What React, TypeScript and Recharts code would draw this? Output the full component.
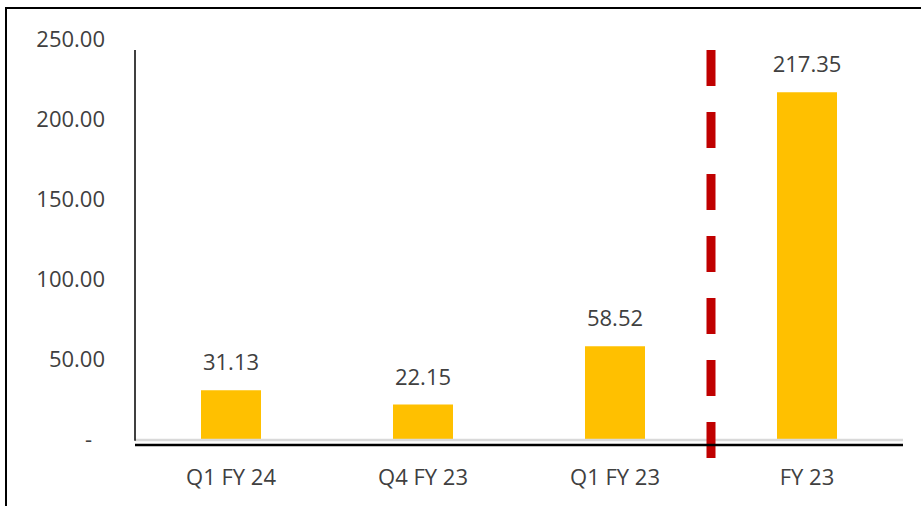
import { Bar, BarChart, LabelList, ReferenceLine, XAxis, YAxis } from "recharts";

const categories = ["Q1 FY 24", "Q4 FY 23", "Q1 FY 23", "FY 23"];
const values = [31.13, 22.15, 58.52, 217.35];
const yTicks = [0, 50, 100, 150, 200, 250];

const data = categories.map((name, i) => ({ name, value: values[i] }));

const FONT = "'Open Sans', sans-serif";
const TEXT = "#404040";

const first = categories[0];
const last = categories[categories.length - 1];

const YTick = (props: any) => {
  const { x, y, payload } = props;
  const v = payload.value as number;
  return (
    <text
      x={v === 0 ? x - 13 : x}
      y={y}
      dy={7}
      textAnchor="end"
      fill={TEXT}
      fontSize={22}
      fontFamily={FONT}
    >
      {v === 0 ? "-" : v.toFixed(2)}
    </text>
  );
};

export default function App() {
  return (
    <div style={{ position: "absolute", left: 0, top: 0, width: 921, height: 506, overflow: "hidden", background: "#fff" }}>
      <div
        style={{
          position: "absolute",
          left: 5,
          top: 7,
          width: 1000,
          height: 600,
          borderTop: "2px solid #000",
          borderLeft: "2px solid #000",
        }}
      />
      <BarChart
        width={921}
        height={506}
        data={data}
        margin={{ top: 40, right: 18, bottom: 0, left: 0 }}
        barSize={60}
        style={{ position: "absolute", left: 0, top: 0 }}
      >
        <XAxis
          dataKey="name"
          axisLine={false}
          tickLine={false}
          tickSize={0}
          tickMargin={24}
          height={61}
          tick={{ fill: TEXT, fontSize: 22, fontFamily: FONT }}
          interval={0}
        />
        <YAxis
          domain={[-3.125, 250]}
          ticks={yTicks}
          width={135}
          axisLine={false}
          tickLine={false}
          tickSize={0}
          tickMargin={30}
          tick={<YTick />}
          interval={0}
        />
        <ReferenceLine y={0} stroke="#D9D9D9" strokeWidth={2.5} />
        <Bar dataKey="value" fill="#FFC000" isAnimationActive={false}>
          <LabelList
            dataKey="value"
            position="top"
            offset={20}
            fill={TEXT}
            fontSize={22}
            fontFamily={FONT}
            formatter={(v: any) => Number(v).toFixed(2)}
          />
        </Bar>
        <ReferenceLine
          segment={[{ x: first, y: -0.5 }, { x: first, y: 243.75 }]}
          position="start"
          stroke="#000"
          strokeWidth={1.5}
          ifOverflow="visible"
        />
        <ReferenceLine
          segment={[{ x: last, y: 243.75 }, { x: last, y: -14.4 }]}
          position="start"
          stroke="#C00000"
          strokeWidth={9}
          strokeDasharray="36 26"
          ifOverflow="visible"
        />
        <ReferenceLine
          y={-3.125}
          stroke="#000"
          strokeWidth={2.5}
          ifOverflow="visible"
        />
      </BarChart>
    </div>
  );
}
